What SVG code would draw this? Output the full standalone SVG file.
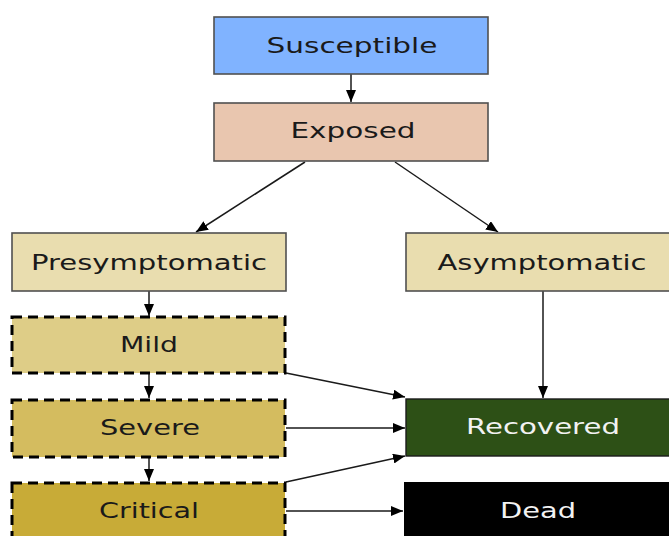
<svg xmlns="http://www.w3.org/2000/svg" width="669" height="536" viewBox="0 0 669 536">
<style>
.box{stroke:#505050;stroke-width:1.6}
.dash{stroke:#000;stroke-width:3;stroke-dasharray:10 6}
.t{font-family:"DejaVu Sans",Verdana,sans-serif;font-size:21px;text-anchor:middle;fill:#1a1a1a}
.w{fill:#f2f2f2}
.c{fill:none;stroke:#1a1a1a;stroke-width:1.5}
</style>
<defs>
<marker id="ah" markerWidth="12" markerHeight="10" refX="12" refY="5" orient="auto" markerUnits="userSpaceOnUse">
<path d="M0,0 L12,5 L0,10 z" fill="#000"/>
</marker>
</defs>
<rect width="669" height="536" fill="#fff"/>
<g id="connectors">
<line class="c" x1="351" y1="74" x2="351" y2="102" marker-end="url(#ah)"/>
<line class="c" x1="305" y1="162" x2="196" y2="232" marker-end="url(#ah)"/>
<line class="c" x1="395" y1="162" x2="498" y2="232" marker-end="url(#ah)"/>
<line class="c" x1="149" y1="291" x2="149" y2="316" marker-end="url(#ah)"/>
<line class="c" x1="149" y1="374" x2="149" y2="398" marker-end="url(#ah)"/>
<line class="c" x1="149" y1="457" x2="149" y2="481" marker-end="url(#ah)"/>
<line class="c" x1="543" y1="291" x2="543" y2="398" marker-end="url(#ah)"/>
<line class="c" x1="286" y1="373" x2="405" y2="397" marker-end="url(#ah)"/>
<line class="c" x1="286" y1="428" x2="405" y2="428" marker-end="url(#ah)"/>
<line class="c" x1="286" y1="482" x2="405" y2="456" marker-end="url(#ah)"/>
<line class="c" x1="286" y1="511" x2="403" y2="511" marker-end="url(#ah)"/>
</g>
<g id="susceptible">
<rect class="box" x="214" y="17" width="274" height="57" fill="#80b3ff"/>
<text class="t" x="352" y="53" textLength="171" lengthAdjust="spacingAndGlyphs">Susceptible</text>
</g>
<g id="exposed">
<rect class="box" x="214" y="103" width="274" height="58" fill="#e9c6af"/>
<text class="t" x="353" y="138" textLength="125" lengthAdjust="spacingAndGlyphs">Exposed</text>
</g>
<g id="presymptomatic">
<rect class="box" x="12" y="233" width="274" height="58" fill="#e9ddaf"/>
<text class="t" x="149" y="270" textLength="236" lengthAdjust="spacingAndGlyphs">Presymptomatic</text>
</g>
<g id="asymptomatic">
<rect class="box" x="406" y="233" width="274" height="58" fill="#e9ddaf"/>
<text class="t" x="542" y="270" textLength="209" lengthAdjust="spacingAndGlyphs">Asymptomatic</text>
</g>
<g id="mild">
<rect class="dash" x="12" y="317" width="273" height="56" fill="#decd87"/>
<text class="t" x="149" y="352" textLength="58" lengthAdjust="spacingAndGlyphs">Mild</text>
</g>
<g id="severe">
<rect class="dash" x="12" y="400" width="273" height="57" fill="#d4bc5f"/>
<text class="t" x="150" y="435" textLength="100" lengthAdjust="spacingAndGlyphs">Severe</text>
</g>
<g id="critical">
<rect class="dash" x="12" y="483" width="273" height="60" fill="#c8ab37"/>
<text class="t" x="149" y="518" textLength="100" lengthAdjust="spacingAndGlyphs">Critical</text>
</g>
<g id="recovered">
<rect x="406" y="399" width="274" height="57" fill="#2d5016" stroke="#1a1a1a" stroke-width="1.4"/>
<text class="t w" x="543" y="434" textLength="154" lengthAdjust="spacingAndGlyphs">Recovered</text>
</g>
<g id="dead">
<rect x="404" y="482" width="276" height="60" fill="#000"/>
<text class="t w" x="538" y="518" textLength="76" lengthAdjust="spacingAndGlyphs">Dead</text>
</g>
</svg>
